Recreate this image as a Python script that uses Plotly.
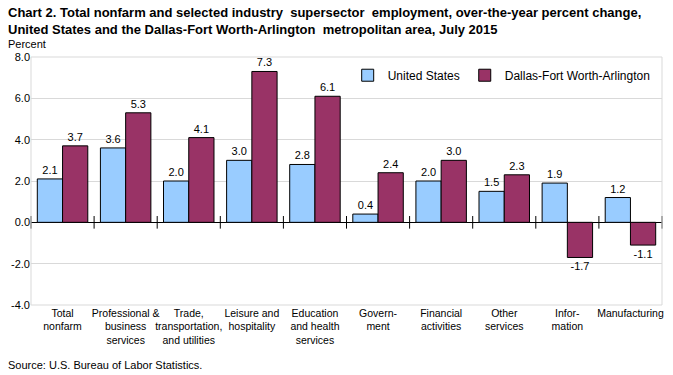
import plotly.graph_objects as go

categories = ["Total<br>nonfarm", "Professional &<br>business<br>services", "Trade,<br>transportation,<br>and utilities",
              "Leisure and<br>hospitality", "Education<br>and health<br>services", "Govern-<br>ment",
              "Financial<br>activities", "Other<br>services", "Infor-<br>mation", "Manufacturing"]
us_values = [2.1, 3.6, 2.0, 3.0, 2.8, 0.4, 2.0, 1.5, 1.9, 1.2]
dfw_values = [3.7, 5.3, 4.1, 7.3, 6.1, 2.4, 3.0, 2.3, -1.7, -1.1]
tick_vals = [-4, -2, 0, 2, 4, 6, 8]
tick_text = ["-4.0", "-2.0", "0.0", "2.0", "4.0", "6.0", "8.0"]

FONT = "Liberation Sans Narrow, Arial Narrow, Liberation Sans, Arial, sans-serif"
FONT2 = "Liberation Sans, Arial, sans-serif"

fig = go.Figure()
fig.add_trace(go.Bar(name="United States", x=categories, y=us_values,
                     marker=dict(color="#99CCFF", line=dict(color="#000000", width=1)),
                     text=[f"{v:.1f}" for v in us_values], textposition="outside",
                     textfont=dict(size=11, color="#000", family=FONT2), cliponaxis=False))
fig.add_trace(go.Bar(name="Dallas-Fort Worth-Arlington", x=categories, y=dfw_values,
                     marker=dict(color="#993366", line=dict(color="#000000", width=1)),
                     text=[f"{v:.1f}" for v in dfw_values], textposition="outside",
                     textfont=dict(size=11, color="#000", family=FONT2), cliponaxis=False))

# category boundary tick marks on the zero line
n = len(categories)
fig.add_trace(go.Scatter(x=[i - 0.5 for i in range(n + 1)], y=[0] * (n + 1), xaxis="x2",
                         mode="markers", showlegend=False, hoverinfo="skip", cliponaxis=False,
                         marker=dict(symbol="line-ns", size=9, line=dict(color="#000", width=1))))

fig.update_layout(
    width=673, height=375,
    margin=dict(l=31, r=11, t=57, b=70),
    paper_bgcolor="white", plot_bgcolor="white",
    barmode="group", bargap=0.2, bargroupgap=0,
    font=dict(family=FONT2, size=11, color="#000"),
    showlegend=True,
    legend=dict(orientation="h", x=0.99, xanchor="right", y=0.985, yanchor="top",
                bgcolor="rgba(0,0,0,0)", font=dict(size=12, family=FONT2),
                itemwidth=30, traceorder="normal", tracegroupgap=0),
    xaxis=dict(showline=False, ticks="", tickfont=dict(size=10.5, family=FONT2), tickangle=0,
               automargin=False),
    xaxis2=dict(overlaying="x", range=[-0.5, n - 0.5], visible=False, automargin=False),
    yaxis=dict(range=[-4, 8], tickvals=tick_vals, ticktext=tick_text, showgrid=True,
               gridcolor="#D9D9D9", gridwidth=1,
               zeroline=True, zerolinecolor="#000", zerolinewidth=1, automargin=False,
               ticks="", tickfont=dict(size=11, family=FONT2), showline=False),
    shapes=[dict(type="rect", xref="paper", yref="paper", x0=0, y0=0, x1=1, y1=1,
                 line=dict(color="#D9D9D9", width=1), fillcolor="rgba(0,0,0,0)")],
    annotations=[
        dict(text="<b>Chart 2. Total nonfarm and selected industry  supersector  employment, over-the-year percent change,<br>United States and the Dallas-Fort Worth-Arlington  metropolitan area, July 2015</b>",
             xref="paper", yref="paper", x=-0.04, y=1.0, xanchor="left", yanchor="bottom",
             yshift=18, align="left", showarrow=False, font=dict(size=13, family=FONT, color="#000")),
        dict(text="Percent", xref="paper", yref="paper", x=-0.04, y=1.0, xanchor="left",
             yanchor="bottom", yshift=5, showarrow=False, font=dict(size=11, family=FONT, color="#000")),
        dict(text="Source: U.S. Bureau of Labor Statistics.", xref="paper", yref="paper",
             x=-0.04, y=0, yshift=-60, xanchor="left", yanchor="middle", showarrow=False,
             font=dict(size=11, family=FONT2, color="#000")),
    ],
)
fig.write_html("out.html", config={"displayModeBar": False},
               post_script="document.body.style.margin='0';")
